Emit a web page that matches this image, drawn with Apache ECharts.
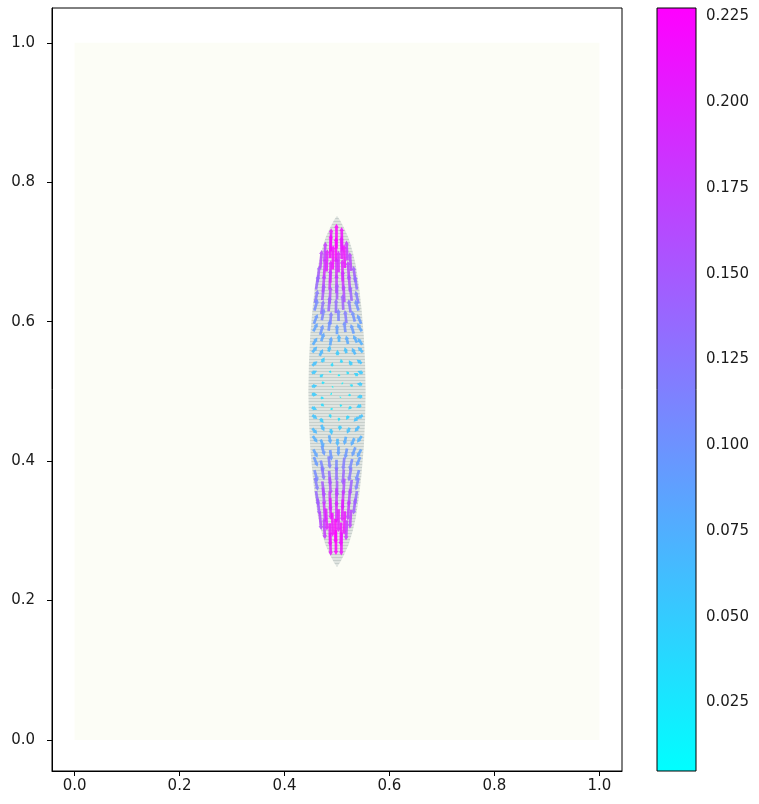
<!DOCTYPE html>
<html>
<head>
<meta charset="utf-8">
<script src="https://cdn.jsdelivr.net/npm/echarts@6/dist/echarts.min.js"></script>
<style>
  html, body { margin: 0; padding: 0; background: #ffffff; }
  #chart { width: 759px; height: 804px; }
</style>
</head>
<body>
<div id="chart"></div>
<script>
// Axis ticks
const xTicks = [0.0, 0.2, 0.4, 0.6, 0.8, 1.0];
const yTicks = [0.0, 0.2, 0.4, 0.6, 0.8, 1.0];
const cbTicks = [0.025, 0.050, 0.075, 0.100, 0.125, 0.150, 0.175, 0.200, 0.225];
const cbRange = [0.005, 0.2275];

// Computational domain (unit square)
const domainX = [0, 1];
const domainY = [0, 1];

// Drop outline: half-widths about the centre line x = 0.5
const dropCenterX = 0.5;
const outlineY =     [0.248, 0.255, 0.265, 0.280, 0.300, 0.320, 0.350, 0.380, 0.420, 0.460, 0.500, 0.540, 0.580, 0.620, 0.650, 0.680, 0.700, 0.720, 0.735, 0.745, 0.752];
const outlineHalfW = [0.000, 0.006, 0.013, 0.022, 0.030, 0.036, 0.042, 0.0465, 0.051, 0.0535, 0.0545, 0.0535, 0.051, 0.0465, 0.042, 0.036, 0.030, 0.022, 0.013, 0.006, 0.000];

// Velocity vectors inside the drop (tail position and components)
const arrowX = [
  0.488, 0.499, 0.510,
  0.476, 0.487, 0.498, 0.509, 0.520,
  0.468, 0.480, 0.492, 0.503, 0.515, 0.527,
  0.463, 0.475, 0.487, 0.499, 0.511, 0.523, 0.535,
  0.460, 0.473, 0.486, 0.499, 0.512, 0.525, 0.538,
  0.458, 0.472, 0.486, 0.500, 0.514, 0.528, 0.541,
  0.457, 0.470, 0.484, 0.498, 0.512, 0.526, 0.541,
  0.456, 0.471, 0.487, 0.503, 0.518, 0.534, 0.546,
  0.455, 0.468, 0.484, 0.500, 0.516, 0.532, 0.547,
  0.454, 0.470, 0.487, 0.504, 0.521, 0.538, 0.548,
  0.453, 0.467, 0.484, 0.501, 0.518, 0.535, 0.549,
  0.453, 0.471, 0.490, 0.509, 0.528, 0.547,
  0.452, 0.468, 0.486, 0.504, 0.522, 0.540, 0.549,
  0.452, 0.471, 0.491, 0.511, 0.530, 0.548,
  0.452, 0.469, 0.488, 0.507, 0.526, 0.548,
  0.452, 0.470, 0.489, 0.508, 0.527, 0.546,
  0.453, 0.468, 0.486, 0.504, 0.522, 0.540, 0.549,
  0.453, 0.470, 0.488, 0.506, 0.524, 0.542,
  0.454, 0.469, 0.485, 0.501, 0.517, 0.533, 0.547,
  0.455, 0.471, 0.487, 0.503, 0.519, 0.535, 0.546,
  0.456, 0.469, 0.484, 0.499, 0.514, 0.529, 0.544,
  0.457, 0.471, 0.485, 0.499, 0.513, 0.527, 0.542,
  0.458, 0.472, 0.486, 0.500, 0.514, 0.528, 0.541,
  0.460, 0.473, 0.486, 0.499, 0.512, 0.525, 0.538,
  0.463, 0.475, 0.487, 0.499, 0.511, 0.523, 0.535,
  0.467, 0.479, 0.491, 0.503, 0.515, 0.527,
  0.475, 0.486, 0.497, 0.508, 0.519,
  0.487, 0.498, 0.509
];
const arrowY = [
  0.701, 0.705, 0.702,
  0.687, 0.691, 0.686, 0.690, 0.688,
  0.676, 0.672, 0.675, 0.671, 0.677, 0.673,
  0.657, 0.661, 0.656, 0.662, 0.658, 0.660, 0.657,
  0.646, 0.642, 0.647, 0.641, 0.645, 0.643, 0.646,
  0.627, 0.631, 0.626, 0.632, 0.628, 0.630, 0.626,
  0.616, 0.611, 0.615, 0.612, 0.617, 0.613, 0.616,
  0.597, 0.602, 0.596, 0.601, 0.598, 0.600, 0.597,
  0.586, 0.581, 0.587, 0.582, 0.585, 0.583, 0.586,
  0.567, 0.572, 0.566, 0.571, 0.568, 0.570, 0.567,
  0.556, 0.551, 0.557, 0.552, 0.555, 0.553, 0.556,
  0.537, 0.542, 0.536, 0.541, 0.538, 0.540,
  0.526, 0.521, 0.527, 0.522, 0.525, 0.523, 0.526,
  0.507, 0.512, 0.506, 0.511, 0.508, 0.510,
  0.496, 0.491, 0.497, 0.492, 0.495, 0.493,
  0.477, 0.482, 0.476, 0.481, 0.478, 0.480,
  0.466, 0.461, 0.467, 0.462, 0.465, 0.463, 0.466,
  0.447, 0.452, 0.446, 0.451, 0.448, 0.450,
  0.436, 0.431, 0.437, 0.432, 0.435, 0.433, 0.436,
  0.417, 0.422, 0.416, 0.421, 0.418, 0.420, 0.417,
  0.406, 0.401, 0.407, 0.402, 0.405, 0.403, 0.406,
  0.387, 0.392, 0.386, 0.391, 0.388, 0.390, 0.387,
  0.376, 0.371, 0.377, 0.372, 0.375, 0.373, 0.376,
  0.357, 0.362, 0.356, 0.361, 0.358, 0.360, 0.357,
  0.346, 0.341, 0.347, 0.342, 0.345, 0.343, 0.346,
  0.327, 0.332, 0.326, 0.331, 0.328, 0.330,
  0.316, 0.311, 0.317, 0.312, 0.315,
  0.297, 0.301, 0.298
];
const arrowU = [
  0.004, 0.000, -0.006,
  0.010, 0.006, 0.001, -0.004, -0.010,
  0.014, 0.008, 0.003, -0.001, -0.007, -0.013,
  0.018, 0.012, 0.006, 0.000, -0.005, -0.011, -0.018,
  0.022, 0.014, 0.008, 0.001, -0.006, -0.013, -0.020,
  0.026, 0.016, 0.008, 0.000, -0.008, -0.016, -0.027,
  0.030, 0.020, 0.011, 0.002, -0.008, -0.018, -0.031,
  0.034, 0.022, 0.010, -0.002, -0.014, -0.026, -0.036,
  0.038, 0.026, 0.012, 0.000, -0.012, -0.028, -0.040,
  0.040, 0.026, 0.011, -0.003, -0.018, -0.034, -0.042,
  0.044, 0.030, 0.014, -0.001, -0.016, -0.032, -0.044,
  0.046, 0.026, 0.008, -0.008, -0.026, -0.046,
  0.048, 0.030, 0.012, -0.004, -0.020, -0.038, -0.048,
  0.050, 0.028, 0.008, -0.010, -0.030, -0.050,
  0.050, 0.032, 0.012, -0.007, -0.026, -0.050,
  0.048, 0.028, 0.010, -0.009, -0.028, -0.046,
  0.046, 0.031, 0.013, -0.004, -0.022, -0.040, -0.048,
  0.044, 0.028, 0.011, -0.006, -0.024, -0.040,
  0.042, 0.029, 0.014, -0.001, -0.016, -0.031, -0.042,
  0.038, 0.026, 0.012, -0.003, -0.018, -0.032, -0.038,
  0.034, 0.025, 0.013, 0.000, -0.012, -0.025, -0.034,
  0.030, 0.021, 0.012, 0.001, -0.011, -0.022, -0.030,
  0.026, 0.018, 0.010, 0.000, -0.010, -0.018, -0.026,
  0.022, 0.015, 0.008, 0.001, -0.007, -0.014, -0.021,
  0.018, 0.012, 0.006, 0.000, -0.006, -0.012, -0.018,
  0.014, 0.009, 0.004, -0.001, -0.007, -0.012,
  0.010, 0.005, 0.001, -0.004, -0.009,
  0.005, 0.000, -0.004
];
const arrowV = [
  0.210, 0.226, 0.214,
  0.176, 0.218, 0.224, 0.206, 0.180,
  0.170, 0.202, 0.220, 0.196, 0.214, 0.168,
  0.150, 0.188, 0.204, 0.192, 0.200, 0.172, 0.146,
  0.136, 0.166, 0.180, 0.174, 0.184, 0.160, 0.130,
  0.120, 0.150, 0.160, 0.152, 0.162, 0.140, 0.116,
  0.104, 0.128, 0.140, 0.134, 0.142, 0.122, 0.098,
  0.090, 0.110, 0.118, 0.112, 0.120, 0.100, 0.086,
  0.078, 0.094, 0.100, 0.090, 0.102, 0.088, 0.074,
  0.066, 0.080, 0.082, 0.070, 0.078, 0.070, 0.062,
  0.054, 0.062, 0.058, 0.050, 0.056, 0.060, 0.050,
  0.040, 0.044, 0.036, 0.038, 0.042, 0.036,
  0.024, 0.026, 0.020, 0.018, 0.024, 0.022, 0.020,
  0.010, 0.008, 0.006, 0.008, 0.010, 0.006,
  -0.006, -0.004, -0.008, -0.006, -0.004, -0.008,
  -0.020, -0.024, -0.018, -0.022, -0.026, -0.020,
  -0.036, -0.040, -0.034, -0.032, -0.038, -0.042, -0.034,
  -0.050, -0.058, -0.054, -0.048, -0.056, -0.052,
  -0.062, -0.074, -0.078, -0.068, -0.076, -0.072, -0.060,
  -0.076, -0.090, -0.098, -0.088, -0.094, -0.086, -0.074,
  -0.088, -0.108, -0.116, -0.110, -0.118, -0.106, -0.086,
  -0.104, -0.124, -0.136, -0.130, -0.138, -0.122, -0.100,
  -0.118, -0.146, -0.158, -0.150, -0.156, -0.142, -0.114,
  -0.134, -0.162, -0.178, -0.172, -0.180, -0.158, -0.130,
  -0.148, -0.184, -0.198, -0.192, -0.202, -0.178, -0.144,
  -0.164, -0.200, -0.216, -0.206, -0.212, -0.170,
  -0.178, -0.212, -0.226, -0.214, -0.182,
  -0.208, -0.227, -0.212
];

// Quiver scale: screen pixels per unit of speed
const ARROW_PX = 110;
const FONT = 'DejaVu Sans';
const TEXT = '#1a1a1a';

const chart = echarts.init(document.getElementById('chart'), null, { renderer: 'canvas' });

// Striped fill for the meshed drop interior
const stripe = document.createElement('canvas');
stripe.width = 4; stripe.height = 3;
(function () {
  const g = stripe.getContext('2d');
  g.fillStyle = '#dfe4e0'; g.fillRect(0, 0, 4, 3);
  g.fillStyle = '#c7cfcb'; g.fillRect(0, 2, 4, 1);
})();

const vectors = arrowX.map((x, i) => [x, arrowY[i], arrowU[i], arrowV[i], Math.hypot(arrowU[i], arrowV[i])]);

function renderDomain(params, api) {
  const a = api.coord([domainX[0], domainY[0]]);
  const b = api.coord([domainX[1], domainY[1]]);
  return {
    type: 'rect',
    shape: { x: a[0], y: b[1], width: b[0] - a[0], height: a[1] - b[1] },
    style: { fill: '#fcfdf6' }
  };
}

function renderOutline(params, api) {
  const pts = [];
  for (let i = 0; i < outlineY.length; i++) pts.push(api.coord([dropCenterX + outlineHalfW[i], outlineY[i]]));
  for (let i = outlineY.length - 1; i >= 0; i--) pts.push(api.coord([dropCenterX - outlineHalfW[i], outlineY[i]]));
  return {
    type: 'polygon',
    shape: { points: pts },
    style: { fill: { image: stripe, repeat: 'repeat' } }
  };
}

function renderArrow(params, api) {
  const x = api.value(0), y = api.value(1), u = api.value(2), v = api.value(3), m = api.value(4);
  const p = api.coord([x, y]);
  const L = m * ARROW_PX;
  if (L < 0.4) return;
  const ux = u / m, uy = -v / m;
  const nx = -uy, ny = ux;
  let sw = 1.35, hw = 2.3, hl = 4;
  const minL = hl * 1.3;
  if (L < minL) {
    const s = L / minL;
    sw *= Math.max(s, 0.7); hw *= Math.max(s, 0.7); hl *= s;
  }
  const bx = p[0] + ux * (L - hl), by = p[1] + uy * (L - hl);
  const tx = p[0] + ux * L, ty = p[1] + uy * L;
  const pts = [
    [p[0] + nx * sw, p[1] + ny * sw],
    [bx + nx * sw, by + ny * sw],
    [bx + nx * hw, by + ny * hw],
    [tx, ty],
    [bx - nx * hw, by - ny * hw],
    [bx - nx * sw, by - ny * sw],
    [p[0] - nx * sw, p[1] - ny * sw]
  ];
  return {
    type: 'polygon',
    shape: { points: pts },
    style: { fill: api.visual('color'), opacity: 0.85 }
  };
}

function renderColorbar(params, api) {
  const a = api.coord([0, cbRange[1]]);
  const b = api.coord([1, cbRange[0]]);
  return {
    type: 'rect',
    shape: { x: a[0], y: a[1], width: b[0] - a[0], height: b[1] - a[1] },
    style: {
      fill: new echarts.graphic.LinearGradient(0, 0, 0, 1, [
        { offset: 0, color: '#ff00ff' },
        { offset: 1, color: '#00ffff' }
      ]),
      stroke: '#000000',
      lineWidth: 1
    }
  };
}

const tickLabel = { fontFamily: FONT, fontSize: 15, color: TEXT };

chart.setOption({
  animation: false,
  backgroundColor: '#ffffff',
  grid: [
    { left: 52, top: 8, width: 570, height: 763, show: true, borderColor: '#000000', borderWidth: 1, backgroundColor: 'transparent' },
    { left: 657, top: 8, width: 39, height: 763 }
  ],
  xAxis: [
    {
      gridIndex: 0, type: 'value', min: -0.043, max: 1.043,
      splitLine: { show: false },
      axisLine: { show: true, onZero: false, lineStyle: { color: '#000000', width: 1 } },
      axisTick: { show: true, inside: false, length: 5, customValues: xTicks, lineStyle: { color: '#000000' } },
      axisLabel: { ...tickLabel, margin: 8, customValues: xTicks, formatter: v => v.toFixed(1) }
    },
    { gridIndex: 1, type: 'value', min: 0, max: 1, show: false }
  ],
  yAxis: [
    {
      gridIndex: 0, type: 'value', min: -0.0445, max: 1.05,
      splitLine: { show: false },
      axisLine: { show: true, onZero: false, lineStyle: { color: '#000000', width: 1 } },
      axisTick: { show: true, inside: false, length: 5, customValues: yTicks, lineStyle: { color: '#000000' } },
      axisLabel: { ...tickLabel, margin: 17, customValues: yTicks, formatter: v => v.toFixed(1) }
    },
    {
      gridIndex: 1, type: 'value', position: 'right', min: cbRange[0], max: cbRange[1],
      splitLine: { show: false },
      axisLine: { show: false },
      axisTick: { show: true, inside: false, length: 5, customValues: cbTicks, lineStyle: { color: '#000000' } },
      axisLabel: { ...tickLabel, margin: 10, customValues: cbTicks, formatter: v => v.toFixed(3) }
    }
  ],
  visualMap: {
    type: 'continuous', show: false, seriesIndex: 2, dimension: 4,
    min: cbRange[0], max: cbRange[1],
    inRange: { color: ['#00ffff', '#ff00ff'] }
  },
  series: [
    {
      type: 'custom', name: 'domain', xAxisIndex: 0, yAxisIndex: 0, silent: true, z: 1,
      renderItem: renderDomain, data: [[domainX[0], domainY[0]]], encode: { x: 0, y: 1 }
    },
    {
      type: 'custom', name: 'drop', xAxisIndex: 0, yAxisIndex: 0, silent: true, z: 2,
      renderItem: renderOutline, data: [[dropCenterX, 0.5]], encode: { x: 0, y: 1 }
    },
    {
      type: 'custom', name: 'velocity', xAxisIndex: 0, yAxisIndex: 0, silent: true, z: 3,
      renderItem: renderArrow, data: vectors, encode: { x: 0, y: 1 }
    },
    {
      type: 'custom', name: 'colorbar', xAxisIndex: 1, yAxisIndex: 1, silent: true, z: 3,
      renderItem: renderColorbar, data: [[0, cbRange[0]]], encode: { x: 0, y: 1 }
    }
  ]
});
</script>
</body>
</html>
